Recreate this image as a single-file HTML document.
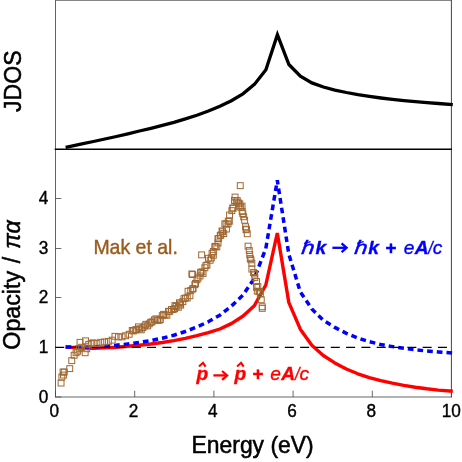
<!DOCTYPE html>
<html><head><meta charset="utf-8"><style>
html,body{margin:0;padding:0;background:#fff;}
svg{display:block;will-change:transform;font-family:"Liberation Sans",sans-serif;}
</style></head><body>
<svg width="462" height="462" viewBox="0 0 462 462">
<rect width="462" height="462" fill="#fff"/>
<g fill="none" stroke="#444" stroke-width="0.8">
<path d="M55.5,0 V397.3" stroke="#484848" stroke-width="0.85"/>
<path d="M451.4,0 V397.3" stroke="#222" stroke-width="0.85"/>
<path d="M55.1,397 H451.8" stroke="#555" stroke-width="0.9"/>
<line x1="55.5" y1="0.4" x2="451.5" y2="0.4" stroke="#555" stroke-width="0.8"/>
<line x1="55.5" y1="397" x2="55.5" y2="390.7"/><line x1="134.7" y1="397" x2="134.7" y2="390.7"/><line x1="213.9" y1="397" x2="213.9" y2="390.7"/><line x1="293.1" y1="397" x2="293.1" y2="390.7"/><line x1="372.3" y1="397" x2="372.3" y2="390.7"/><line x1="451.5" y1="397" x2="451.5" y2="390.7"/><line x1="55.5" y1="397" x2="61.3" y2="397"/><line x1="55.5" y1="347.5" x2="61.3" y2="347.5"/><line x1="55.5" y1="297.5" x2="61.3" y2="297.5"/><line x1="55.5" y1="248.5" x2="61.3" y2="248.5"/><line x1="55.5" y1="198.5" x2="61.3" y2="198.5"/>
</g>
<line x1="54.7" y1="149.2" x2="452" y2="149.2" stroke="#000" stroke-width="1.35"/>
<path d="M65.6,147.3 L70.4,146.3 L81.9,143.9 L93.4,141.5 L104.9,139.0 L116.4,136.5 L127.9,133.8 L139.4,131.0 L150.9,128.3 L162.4,125.4 L173.9,122.3 L185.4,118.9 L196.9,115.2 L208.4,111.0 L219.9,106.3 L231.4,100.7 L242.9,93.8 L254.4,84.4 L265.9,69.8 L277.4,34.7 L288.9,64.5 L300.4,76.1 L311.9,82.9 L323.4,87.0 L334.9,90.1 L346.4,92.5 L357.9,94.6 L369.4,96.4 L380.9,98.0 L392.4,99.4 L403.9,100.6 L415.4,101.6 L426.9,102.6 L438.4,103.5 L452.8,104.6" fill="none" stroke="#000" stroke-width="3.3" stroke-linejoin="miter" stroke-miterlimit="10"/>
<path d="M65.6,347.0 L70.3,347.3 L81.8,348.0 L93.3,348.2 L104.8,347.8 L116.3,347.2 L127.8,346.3 L139.3,345.3 L150.8,344.0 L162.3,342.5 L173.8,340.6 L185.3,338.4 L196.8,335.7 L208.3,332.7 L219.8,329.0 L231.3,323.6 L242.8,316.2 L254.3,305.8 L265.8,285.0 L277.3,233.0 L288.8,302.4 L300.3,329.2 L311.8,345.2 L323.3,355.5 L334.8,362.9 L346.3,369.0 L357.8,373.8 L369.3,377.6 L380.8,380.7 L392.3,383.2 L403.8,385.4 L415.3,387.3 L426.8,388.8 L438.3,390.1 L452.8,391.3" fill="none" stroke="#ff0000" stroke-width="3.4" stroke-linejoin="bevel"/>
<path d="M65.6,347.0 L70.3,347.1 L81.8,347.2 L93.3,346.9 L104.8,346.3 L116.3,345.2 L127.8,343.9 L139.3,342.4 L150.8,340.6 L162.3,338.2 L173.8,335.2 L185.3,331.5 L196.8,327.0 L208.3,321.8 L219.8,315.2 L231.3,306.2 L242.8,295.2 L254.3,278.4 L265.8,248.6 L277.3,180.2 L288.8,254.1 L300.3,291.9 L311.8,308.9 L323.3,320.3 L334.8,327.4 L346.3,333.3 L357.8,338.0 L369.3,341.7 L380.8,344.5 L392.3,346.6 L403.8,348.3 L415.3,349.8 L426.8,351.0 L438.3,352.0 L452.8,353.1" fill="none" stroke="#0000ff" stroke-width="3.5" stroke-dasharray="5.7 4" stroke-linejoin="miter"/>
<line x1="55.2" y1="347.4" x2="451.5" y2="347.4" stroke="#000" stroke-width="1.35" stroke-dasharray="9 6.31"/>
<g fill="none" stroke="#a06730" stroke-width="1.0"><rect x="58.1" y="380.1" width="5.9" height="5.9"/><rect x="58.9" y="374.1" width="5.9" height="5.9"/><rect x="60.5" y="372.1" width="5.9" height="5.9"/><rect x="60.1" y="369.1" width="5.9" height="5.9"/><rect x="61.3" y="369.1" width="5.9" height="5.9"/><rect x="66.8" y="365.7" width="5.9" height="5.9"/><rect x="68.8" y="357.7" width="5.9" height="5.9"/><rect x="71.2" y="352.3" width="5.9" height="5.9"/><rect x="73.1" y="349.8" width="5.9" height="5.9"/><rect x="74.7" y="348.3" width="5.9" height="5.9"/><rect x="76.7" y="345.8" width="5.9" height="5.9"/><rect x="77.1" y="339.4" width="5.9" height="5.9"/><rect x="78.7" y="344.3" width="5.9" height="5.9"/><rect x="82.2" y="349.8" width="5.9" height="5.9"/><rect x="82.6" y="337.9" width="5.9" height="5.9"/><rect x="83.8" y="345.8" width="5.9" height="5.9"/><rect x="85.8" y="341.4" width="5.9" height="5.9"/><rect x="88.2" y="340.4" width="5.9" height="5.9"/><rect x="90.2" y="339.9" width="5.9" height="5.9"/><rect x="94.0" y="340.6" width="5.9" height="5.9"/><rect x="97.8" y="339.4" width="5.9" height="5.9"/><rect x="101.6" y="339.0" width="5.9" height="5.9"/><rect x="105.4" y="338.4" width="5.9" height="5.9"/><rect x="109.2" y="337.2" width="5.9" height="5.9"/><rect x="112.0" y="333.4" width="5.9" height="5.9"/><rect x="115.5" y="333.9" width="5.9" height="5.9"/><rect x="119.1" y="333.9" width="5.9" height="5.9"/><rect x="122.6" y="332.8" width="5.9" height="5.9"/><rect x="126.2" y="331.3" width="5.9" height="5.9"/><rect x="129.3" y="327.5" width="5.9" height="5.9"/><rect x="130.4" y="328.0" width="5.9" height="5.9"/><rect x="132.3" y="327.0" width="5.9" height="5.9"/><rect x="133.6" y="326.7" width="5.9" height="5.9"/><rect x="135.5" y="323.9" width="5.9" height="5.9"/><rect x="136.7" y="325.8" width="5.9" height="5.9"/><rect x="138.3" y="326.9" width="5.9" height="5.9"/><rect x="139.9" y="324.7" width="5.9" height="5.9"/><rect x="141.9" y="323.0" width="5.9" height="5.9"/><rect x="142.9" y="321.4" width="5.9" height="5.9"/><rect x="144.7" y="322.9" width="5.9" height="5.9"/><rect x="146.3" y="320.9" width="5.9" height="5.9"/><rect x="147.8" y="319.4" width="5.9" height="5.9"/><rect x="149.1" y="318.9" width="5.9" height="5.9"/><rect x="151.4" y="316.9" width="5.9" height="5.9"/><rect x="153.0" y="315.9" width="5.9" height="5.9"/><rect x="154.6" y="317.4" width="5.9" height="5.9"/><rect x="156.1" y="317.3" width="5.9" height="5.9"/><rect x="157.4" y="316.6" width="5.9" height="5.9"/><rect x="159.3" y="312.7" width="5.9" height="5.9"/><rect x="160.6" y="311.4" width="5.9" height="5.9"/><rect x="162.1" y="312.0" width="5.9" height="5.9"/><rect x="163.9" y="312.3" width="5.9" height="5.9"/><rect x="165.5" y="308.4" width="5.9" height="5.9"/><rect x="166.8" y="308.4" width="5.9" height="5.9"/><rect x="168.5" y="306.6" width="5.9" height="5.9"/><rect x="170.3" y="306.5" width="5.9" height="5.9"/><rect x="171.7" y="305.7" width="5.9" height="5.9"/><rect x="172.0" y="302.6" width="5.9" height="5.9"/><rect x="173.2" y="303.5" width="5.9" height="5.9"/><rect x="175.4" y="304.3" width="5.9" height="5.9"/><rect x="176.5" y="299.8" width="5.9" height="5.9"/><rect x="177.7" y="302.2" width="5.9" height="5.9"/><rect x="177.6" y="300.9" width="5.9" height="5.9"/><rect x="179.9" y="298.7" width="5.9" height="5.9"/><rect x="181.0" y="295.7" width="5.9" height="5.9"/><rect x="182.5" y="295.1" width="5.9" height="5.9"/><rect x="184.3" y="295.0" width="5.9" height="5.9"/><rect x="185.1" y="288.3" width="5.9" height="5.9"/><rect x="187.0" y="292.8" width="5.9" height="5.9"/><rect x="187.8" y="287.5" width="5.9" height="5.9"/><rect x="189.7" y="286.1" width="5.9" height="5.9"/><rect x="190.1" y="285.6" width="5.9" height="5.9"/><rect x="191.9" y="281.7" width="5.9" height="5.9"/><rect x="192.6" y="280.5" width="5.9" height="5.9"/><rect x="194.0" y="276.8" width="5.9" height="5.9"/><rect x="195.1" y="275.1" width="5.9" height="5.9"/><rect x="197.1" y="273.0" width="5.9" height="5.9"/><rect x="197.6" y="269.4" width="5.9" height="5.9"/><rect x="198.9" y="268.9" width="5.9" height="5.9"/><rect x="200.1" y="270.5" width="5.9" height="5.9"/><rect x="201.9" y="264.8" width="5.9" height="5.9"/><rect x="203.0" y="262.6" width="5.9" height="5.9"/><rect x="204.0" y="262.1" width="5.9" height="5.9"/><rect x="205.5" y="255.3" width="5.9" height="5.9"/><rect x="207.2" y="257.3" width="5.9" height="5.9"/><rect x="208.4" y="255.0" width="5.9" height="5.9"/><rect x="209.1" y="250.3" width="5.9" height="5.9"/><rect x="210.4" y="252.3" width="5.9" height="5.9"/><rect x="210.4" y="248.5" width="5.9" height="5.9"/><rect x="211.9" y="243.9" width="5.9" height="5.9"/><rect x="212.3" y="243.4" width="5.9" height="5.9"/><rect x="213.9" y="243.9" width="5.9" height="5.9"/><rect x="215.1" y="240.0" width="5.9" height="5.9"/><rect x="215.0" y="235.8" width="5.9" height="5.9"/><rect x="215.7" y="235.5" width="5.9" height="5.9"/><rect x="217.3" y="232.5" width="5.9" height="5.9"/><rect x="217.8" y="232.1" width="5.9" height="5.9"/><rect x="219.1" y="228.0" width="5.9" height="5.9"/><rect x="219.6" y="228.8" width="5.9" height="5.9"/><rect x="220.8" y="230.6" width="5.9" height="5.9"/><rect x="223.5" y="226.1" width="5.9" height="5.9"/><rect x="221.9" y="220.9" width="5.9" height="5.9"/><rect x="223.1" y="221.0" width="5.9" height="5.9"/><rect x="225.1" y="221.0" width="5.9" height="5.9"/><rect x="225.3" y="218.2" width="5.9" height="5.9"/><rect x="226.4" y="218.3" width="5.9" height="5.9"/><rect x="226.6" y="212.1" width="5.9" height="5.9"/><rect x="228.9" y="207.7" width="5.9" height="5.9"/><rect x="230.2" y="205.2" width="5.9" height="5.9"/><rect x="229.8" y="205.0" width="5.9" height="5.9"/><rect x="188.9" y="271.0" width="5.9" height="5.9"/><rect x="198.7" y="251.9" width="5.9" height="5.9"/><rect x="189.6" y="271.6" width="5.9" height="5.9"/><rect x="237.3" y="182.7" width="5.9" height="5.9"/><rect x="232.1" y="194.1" width="5.9" height="5.9"/><rect x="231.5" y="197.5" width="5.9" height="5.9"/><rect x="233.3" y="199.0" width="5.9" height="5.9"/><rect x="234.3" y="197.6" width="5.9" height="5.9"/><rect x="235.6" y="200.0" width="5.9" height="5.9"/><rect x="236.0" y="202.9" width="5.9" height="5.9"/><rect x="236.9" y="200.9" width="5.9" height="5.9"/><rect x="237.8" y="204.3" width="5.9" height="5.9"/><rect x="239.1" y="203.2" width="5.9" height="5.9"/><rect x="239.2" y="208.5" width="5.9" height="5.9"/><rect x="239.8" y="210.6" width="5.9" height="5.9"/><rect x="240.7" y="213.8" width="5.9" height="5.9"/><rect x="241.7" y="217.3" width="5.9" height="5.9"/><rect x="242.6" y="223.8" width="5.9" height="5.9"/><rect x="243.1" y="226.8" width="5.9" height="5.9"/><rect x="243.5" y="226.2" width="5.9" height="5.9"/><rect x="244.3" y="230.8" width="5.9" height="5.9"/><rect x="245.1" y="243.2" width="5.9" height="5.9"/><rect x="246.3" y="247.6" width="5.9" height="5.9"/><rect x="246.8" y="251.7" width="5.9" height="5.9"/><rect x="247.3" y="255.6" width="5.9" height="5.9"/><rect x="248.0" y="256.9" width="5.9" height="5.9"/><rect x="248.9" y="260.2" width="5.9" height="5.9"/><rect x="248.9" y="266.1" width="5.9" height="5.9"/><rect x="250.6" y="269.6" width="5.9" height="5.9"/><rect x="251.6" y="271.1" width="5.9" height="5.9"/><rect x="251.9" y="274.5" width="5.9" height="5.9"/><rect x="253.6" y="278.6" width="5.9" height="5.9"/><rect x="253.6" y="284.3" width="5.9" height="5.9"/><rect x="254.3" y="288.2" width="5.9" height="5.9"/><rect x="254.9" y="283.6" width="5.9" height="5.9"/><rect x="256.1" y="288.6" width="5.9" height="5.9"/><rect x="256.8" y="288.6" width="5.9" height="5.9"/><rect x="257.4" y="290.9" width="5.9" height="5.9"/><rect x="258.3" y="296.8" width="5.9" height="5.9"/><rect x="259.3" y="303.8" width="5.9" height="5.9"/><rect x="259.3" y="305.4" width="5.9" height="5.9"/></g>
<g font-size="18.3" fill="#000" stroke="#000" stroke-width="0.4"><text transform="translate(54.4,417.3) scale(0.94,1)" text-anchor="middle">0</text><text transform="translate(133.6,417.3) scale(0.94,1)" text-anchor="middle">2</text><text transform="translate(212.8,417.3) scale(0.94,1)" text-anchor="middle">4</text><text transform="translate(292.0,417.3) scale(0.94,1)" text-anchor="middle">6</text><text transform="translate(371.2,417.3) scale(0.94,1)" text-anchor="middle">8</text><text transform="translate(451.3,417.3) scale(0.94,1)" text-anchor="middle">10</text><text transform="translate(48.4,402.5) scale(0.94,1)" text-anchor="end">0</text><text transform="translate(48.4,352.9) scale(0.94,1)" text-anchor="end">1</text><text transform="translate(48.4,303.3) scale(0.94,1)" text-anchor="end">2</text><text transform="translate(48.4,253.7) scale(0.94,1)" text-anchor="end">3</text><text transform="translate(48.4,204.1) scale(0.94,1)" text-anchor="end">4</text></g>
<text transform="translate(252.6,453.0) scale(0.95,1)" font-size="24.1" stroke="#000" stroke-width="0.55" text-anchor="middle">Energy (eV)</text>
<text transform="translate(20.6,81.2) rotate(-90) scale(0.95,1)" font-size="24.3" stroke="#000" stroke-width="0.55" text-anchor="middle">JDOS</text>
<text transform="translate(20.4,285) rotate(-90) scale(0.955,1)" font-size="24.3" stroke="#000" stroke-width="0.55" word-spacing="1.5" text-anchor="middle">Opacity / <tspan font-style="italic">πα</tspan></text>
<text transform="translate(93.4,253.9) scale(0.965,1)" font-size="20.2" fill="#9a5b1e" stroke="#9a5b1e" stroke-width="0.4">Mak et al.</text>
<text transform="translate(301.02,253.6) skewX(-7) scale(1.2,1)" font-size="19.2" font-style="italic" fill="#0000ff" stroke="#0000ff" stroke-width="0.45">h</text><path d="M304.00,243.46 L310.60,241.66" stroke="#0000ff" stroke-width="1.3" fill="none"/><text transform="translate(315.47,253.6) scale(1.0,1)" font-size="19.2" font-weight="bold" font-style="italic" fill="#0000ff" stroke="#0000ff" stroke-width="0.35">k</text><path d="M332.4,247.8 H345.2" stroke="#0000ff" stroke-width="2.3" fill="none"/><path d="M341.6,243.4 L346.6,247.8 L341.6,252.2" stroke="#0000ff" stroke-width="2.3" fill="none" stroke-linejoin="miter"/><text transform="translate(354.12,253.6) skewX(-7) scale(1.2,1)" font-size="19.2" font-style="italic" fill="#0000ff" stroke="#0000ff" stroke-width="0.45">h</text><path d="M357.10,243.46 L363.70,241.66" stroke="#0000ff" stroke-width="1.3" fill="none"/><text transform="translate(368.17,253.6) scale(1.0,1)" font-size="19.2" font-weight="bold" font-style="italic" fill="#0000ff" stroke="#0000ff" stroke-width="0.35">k</text><text transform="translate(384.93,253.6) scale(1.0,1)" font-size="19.2" font-weight="bold" font-style="italic" fill="#0000ff" stroke="#0000ff" stroke-width="0.35">+</text><text transform="translate(403.75,253.6) scale(1.0,1)" font-size="19.2" font-weight="normal" font-style="italic" fill="#0000ff" stroke="#0000ff" stroke-width="0.35">e</text><text transform="translate(414.79,253.6) scale(1.0,1)" font-size="19.2" font-weight="bold" font-style="italic" fill="#0000ff" stroke="#0000ff" stroke-width="0.35">A</text><text transform="translate(428.22,253.6) scale(0.85,1)" font-size="19.2" font-weight="normal" font-style="italic" fill="#0000ff" stroke="#0000ff" stroke-width="0.35">/</text><text transform="translate(432.77,253.6) scale(1.0,1)" font-size="19.2" font-weight="normal" font-style="italic" fill="#0000ff" stroke="#0000ff" stroke-width="0.35">c</text><text transform="translate(196.52,379.6) scale(1.0,1)" font-size="19.2" font-weight="bold" font-style="italic" fill="#ff0000" stroke="#ff0000" stroke-width="0.35">p</text><path d="M199.0,366.6 L203.0,362.8 L205.6,366.6" stroke="#ff0000" stroke-width="2.1" fill="none" stroke-linejoin="miter"/><path d="M213.4,375.4 H225.7" stroke="#ff0000" stroke-width="2.3" fill="none"/><path d="M222.1,371.0 L227.1,375.4 L222.1,379.8" stroke="#ff0000" stroke-width="2.3" fill="none" stroke-linejoin="miter"/><text transform="translate(234.62,379.6) scale(1.0,1)" font-size="19.2" font-weight="bold" font-style="italic" fill="#ff0000" stroke="#ff0000" stroke-width="0.35">p</text><path d="M237.1,366.6 L241.1,362.8 L243.7,366.6" stroke="#ff0000" stroke-width="2.1" fill="none" stroke-linejoin="miter"/><text transform="translate(251.93,379.6) scale(1.0,1)" font-size="19.2" font-weight="bold" font-style="italic" fill="#ff0000" stroke="#ff0000" stroke-width="0.35">+</text><text transform="translate(270.25,379.6) scale(1.0,1)" font-size="19.2" font-weight="normal" font-style="italic" fill="#ff0000" stroke="#ff0000" stroke-width="0.35">e</text><text transform="translate(281.19,379.6) scale(1.0,1)" font-size="19.2" font-weight="bold" font-style="italic" fill="#ff0000" stroke="#ff0000" stroke-width="0.35">A</text><text transform="translate(295.12,379.6) scale(0.85,1)" font-size="19.2" font-weight="normal" font-style="italic" fill="#ff0000" stroke="#ff0000" stroke-width="0.35">/</text><text transform="translate(299.57,379.6) scale(1.0,1)" font-size="19.2" font-weight="normal" font-style="italic" fill="#ff0000" stroke="#ff0000" stroke-width="0.35">c</text>
</svg>
</body></html>
